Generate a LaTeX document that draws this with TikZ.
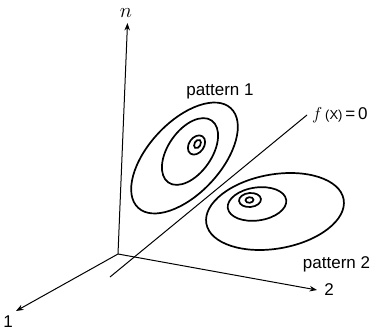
\documentclass[tikz,border=0pt]{standalone}
\usepackage{amsmath, amssymb}
\usepackage{fontspec}
\setmainfont{Liberation Sans}
\usepackage{tikz}
\usetikzlibrary{arrows.meta, positioning, calc}

\begin{document}
\begin{tikzpicture}[
        >=Stealth,
        x=1pt, y=1pt,
        axis/.style={line width=1pt},
        contour/.style={line width=1.7pt},
        label_style/.style={font=\fontsize{17}{20}\selectfont, inner sep=0pt}
    ]
        \useasboundingbox (0,0) rectangle (378,333);

        % Ejes (origen y extremos)
        \coordinate (O) at (118,79);
        \coordinate (A1) at (16,22);
        \coordinate (A2) at (317,43);
        \coordinate (An) at (127.5,310);

        \draw[axis, ->] (O) -- (An);
        \draw[axis, ->] (O) -- (A1);
        \draw[axis, ->] (O) -- (A2);

        \node[label_style, font=\fontsize{21}{24}\selectfont] (n) at (126,320) {$n$};
        \node[label_style] (e1) at (8,11) {1};
        \node[label_style] (e2) at (329,43) {2};

        % Frontera de decision
        \coordinate (F1) at (110,56);
        \coordinate (F2) at (307,218);
        \draw[axis] (F1) -- (F2);
        \node[label_style, anchor=west] (f) at (312,218)
            {$f$\,{\fontsize{13}{15}\selectfont(X)}\,=\,0};

        % Clase 1: contornos concentricos
        \foreach \cx/\cy/\rx/\ry/\ang in {184.5/175/68/36/47, 190/181.5/37.8/21.8/55,
                                        196.5/188/10.5/7.5/55, 197.5/189/4.5/3/60}
            \draw[contour, rotate around={\ang:(\cx,\cy)}] (\cx,\cy) ellipse [x radius=\rx, y radius=\ry];

        % Clase 2: contornos concentricos
        \foreach \cx/\cy/\rx/\ry/\ang in {275/121.5/69.7/37.1/10, 257/129/29.5/16.5/8,
                                        250/133/11/7/5, 249.5/133/4/2.8/5}
            \draw[contour, rotate around={\ang:(\cx,\cy)}] (\cx,\cy) ellipse [x radius=\rx, y radius=\ry];

        % Etiquetas de los patrones
        \node[label_style] (p1) at (220,242) {pattern 1};
        \node[label_style] (p2) at (336.5,69) {pattern 2};

    \end{tikzpicture}
\end{document}
